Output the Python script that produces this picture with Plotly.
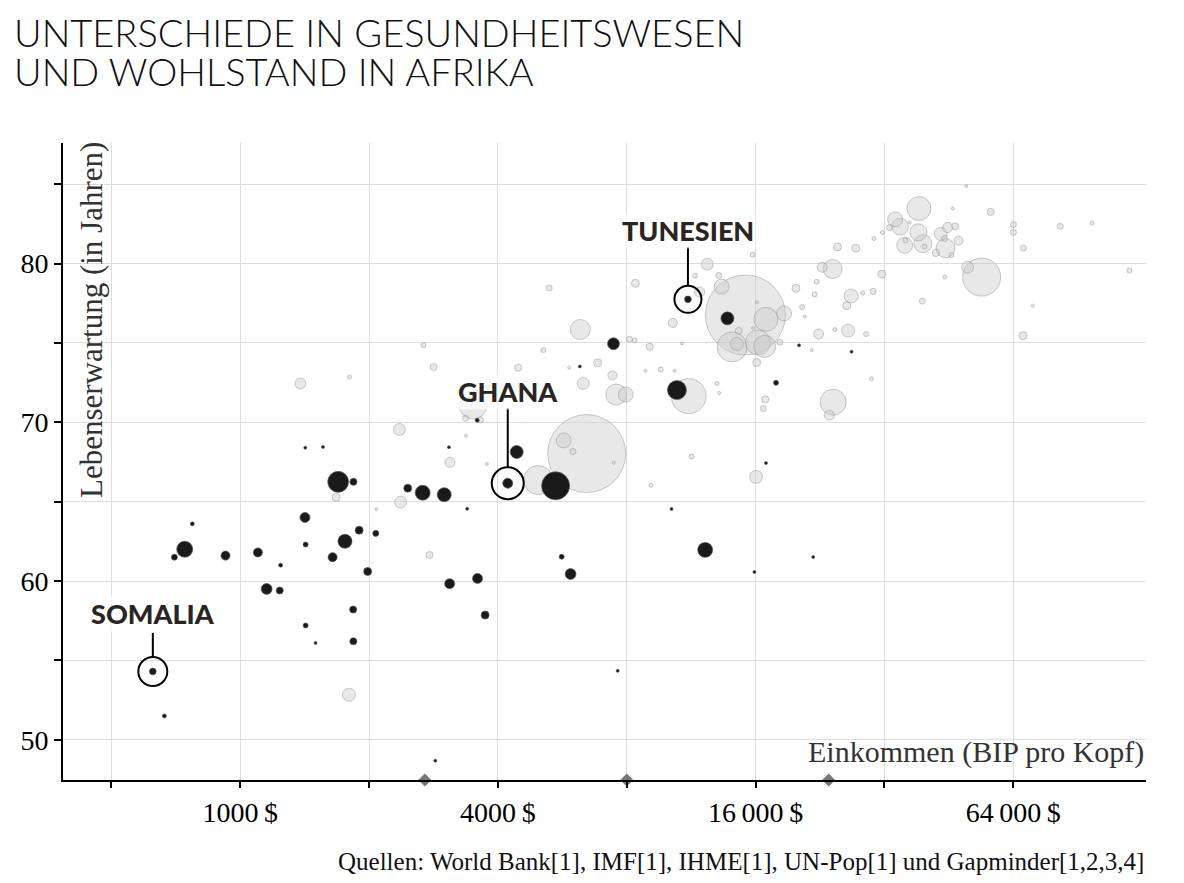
import math
import plotly.graph_objects as go

# ---------------- data ----------------
# African countries: GDP per capita (US$), life expectancy (years), population (millions)
africa_gdp = [625, 665, 702, 742, 773, 924, 1100, 1243, 1153, 1237,
              1417, 1422, 1644, 1757, 1896, 2074, 1985, 1836, 1422, 1500,
              1838, 1694, 1839, 1419, 1561, 2463, 2669, 2997, 4218, 4426,
              5457, 3391, 3086, 3585, 3735, 5637, 5914, 3578, 3074, 10180,
              12200, 15900, 7620, 2856, 21810, 11120, 13750, 7450, 6217, 10480,
              17860, 20210, 26810, 16920]
africa_le = [54.3, 51.5, 61.5, 62.0, 63.6, 61.6, 61.8, 61.0, 59.5, 59.4,
             64.0, 62.3, 61.5, 62.5, 63.2, 63.0, 60.6, 58.2, 57.2, 56.1,
             56.2, 66.25, 66.25, 68.4, 68.45, 65.85, 65.56, 65.44, 66.16, 68.13,
             66.0, 64.55, 59.83, 60.16, 57.85, 61.53, 60.44, 70.13, 68.43, 64.54,
             61.96, 60.57, 54.34, 48.68, 61.51, 77.75, 76.55, 74.95, 73.52, 72.03,
             72.49, 74.85, 74.45, 67.43]
africa_pop = [10, 3.5, 8, 56, 3.5, 18, 18, 3.5, 26, 11,
              22, 5.5, 18, 43, 14, 8, 14, 11, 5.5, 1,
              11, 96, 11, 1, 2, 14, 49, 43, 22, 37,
              171, 1, 22, 22, 14, 5.5, 26, 3.5, 0.5, 2,
              49, 1, 0.5, 1, 0.3, 10, 37, 31, 0.5, 79,
              5.5, 1, 0.3, 0.5]

# Rest of the world
world_gdp = [5270, 6230, 8380, 12340, 11550, 13120, 13330, 11840, 15760, 10250,
             15150, 16920, 18650, 19880, 14100, 14460, 16210, 16800, 14620, 16100,
             18220, 16130, 15790, 8120, 8350, 9050, 10770, 6840, 5870, 5110,
             4460, 2680, 2830, 7410, 6330, 7560, 7960, 8850, 9600, 10350,
             11160, 13000, 13160, 16860, 16680, 3500, 3360, 3640, 2355, 3370,
             3090, 3770, 6450, 5700, 5990, 7460, 11340, 16040, 9110, 4970,
             49700, 38540, 46240, 56700, 33900, 34800, 36660, 32900, 31670, 30260,
             38410, 35680, 39380, 35820, 39670, 43300, 44950, 46840, 47670, 44230,
             44450, 42200, 45920, 50050, 54000, 44300, 64050, 64050, 67550, 82430,
             97820, 119500, 71040, 67450, 39240, 31540, 30110, 28480, 26750, 26140,
             27440, 24870, 24220, 22900, 22230, 21980, 20560, 20840, 22460, 24510,
             26320, 29000, 21640, 29840, 24290, 23780, 1382, 1800, 1676, 2370,
             2080, 2770, 1795]
world_le = [78.46, 75.85, 78.76, 79.96, 79.24, 79.26, 78.55, 78.21, 80.56, 76.26,
            76.76, 76.49, 76.86, 78.44, 74.75, 74.94, 75.03, 74.78, 75.76, 73.77,
            75.05, 77.56, 75.94, 75.24, 75.16, 74.76, 74.97, 73.75, 73.44, 74.55,
            73.44, 74.86, 73.48, 72.95, 72.45, 71.75, 71.75, 73.25, 73.33, 73.25,
            71.65, 72.45, 71.85, 71.45, 70.87, 71.09, 70.25, 70.15, 69.55, 69.15,
            67.48, 67.37, 68.03, 68.86, 68.16, 67.45, 67.84, 66.56, 66.03, 66.36,
            84.88, 83.47, 83.47, 83.26, 82.79, 82.33, 82.59, 82.27, 81.96, 81.58,
            81.97, 81.15, 81.26, 81.47, 81.07, 81.87, 82.27, 82.35, 81.45, 81.58,
            80.97, 80.67, 80.54, 79.77, 79.15, 79.15, 82.46, 81.97, 80.97, 82.35,
            82.56, 79.56, 77.35, 75.46, 77.64, 79.34, 78.25, 78.15, 77.96, 77.35,
            80.97, 81.05, 79.66, 79.77, 78.86, 78.06, 77.26, 76.66, 75.56, 75.85,
            75.77, 75.56, 74.55, 72.74, 71.27, 70.45, 72.44, 72.85, 65.27, 64.97,
            64.53, 61.64, 52.83]
world_pop = [8, 88, 14, 31, 5.5, 8, 49, 22, 5.5, 18,
             1400, 126, 49, 14, 197, 37, 137, 106, 11, 14,
             8, 2, 1, 8, 5.5, 11, 2, 14, 2, 5.5,
             11, 5.5, 11, 18, 31, 96, 49, 2, 5.5, 2,
             268, 3.5, 2, 11, 8, 171, 8, 8, 31, 2,
             22, 2, 1330, 49, 8, 2, 5.5, 37, 3.5, 184,
             2, 126, 2, 11, 49, 63, 2, 8, 3.5, 3.5,
             63, 56, 71, 5.5, 5.5, 37, 22, 11, 18, 8,
             79, 11, 5.5, 31, 316, 3.5, 8, 8, 8, 8,
             3.5, 5.5, 2, 14, 8, 14, 8, 3.5, 43, 14,
             14, 14, 79, 22, 5.5, 5.5, 5.5, 2, 22, 3.5,
             37, 5.5, 2, 3.5, 148, 22, 26, 3.5, 14, 31,
             2, 11, 37]

# Highlighted countries (index into the Africa arrays)
highlight_names = ["SOMALIA", "GHANA", "TUNESIEN"]
highlight_idx = [0, 28, 45]

# Gray diamonds on the x axis
diamond_gdp = [2700, 8000, 23700]

# Axis ticks
x_tickvals = [500, 1000, 2000, 4000, 8000, 16000, 32000, 64000]
x_ticktext = ["", "1000\u2009$", "", "4000\u2009$", "", "16\u2009000\u2009$", "", "64\u2009000\u2009$"]
y_tickvals = [50, 55, 60, 65, 70, 75, 80, 85]
y_ticktext = ["50", "", "60", "", "70", "", "80", ""]

title_lines = ["UNTERSCHIEDE IN GESUNDHEITSWESEN", "UND WOHLSTAND IN AFRIKA"]
x_title = "Einkommen (BIP pro Kopf)"
y_title = "Lebenserwartung (in Jahren)"
source_text = "Quellen: World Bank[1], IMF[1], IHME[1], UN-Pop[1] und Gapminder[1,2,3,4]"

# ---------------- styling ----------------
X_RANGE = [math.log10(385.5), math.log10(130700)]
Y_RANGE = [47.46, 87.6]
MAX_D = 80.0
sizeref = 2.0 * max(world_pop + africa_pop) / MAX_D ** 2

SERIF = "Liberation Serif, Times New Roman, serif"
SANS = "Lato, Open Sans, sans-serif"


def sorted_desc(xs, ys, ss):
    order = sorted(range(len(ss)), key=lambda i: -ss[i])
    return [xs[i] for i in order], [ys[i] for i in order], [ss[i] for i in order]


wx, wy, ws = sorted_desc(world_gdp, world_le, world_pop)
ax_, ay_, as_ = sorted_desc(africa_gdp, africa_le, africa_pop)

fig = go.Figure()
fig.add_trace(go.Scatter(
    x=wx, y=wy, mode="markers", hoverinfo="skip", showlegend=False,
    marker=dict(size=ws, sizemode="area", sizeref=sizeref, sizemin=1.5, opacity=1,
                color="rgba(200,200,200,0.42)",
                line=dict(color="rgba(140,140,140,0.45)", width=1)),
))
fig.add_trace(go.Scatter(
    x=ax_, y=ay_, mode="markers", hoverinfo="skip", showlegend=False,
    marker=dict(size=as_, sizemode="area", sizeref=sizeref, sizemin=1.5, opacity=1,
                color="#1a1a1a",
                line=dict(color="rgba(90,90,90,0.7)", width=1)),
))
fig.add_trace(go.Scatter(
    x=diamond_gdp, y=[Y_RANGE[0]] * len(diamond_gdp), mode="markers",
    hoverinfo="skip", showlegend=False, cliponaxis=False,
    marker=dict(symbol="diamond", size=10, color="#777777", opacity=1),
))

ring_d = [29, 32, 27]
line_top = [38.6, 75.4, 52.3]
label_shift = [58, 92, 69]

hl_gdp = [africa_gdp[i] for i in highlight_idx]
hl_le = [africa_le[i] for i in highlight_idx]

# Rings around highlighted countries
fig.add_trace(go.Scatter(
    x=hl_gdp, y=hl_le, mode="markers", hoverinfo="skip", showlegend=False,
    marker=dict(symbol="circle-open", size=ring_d, color="black", opacity=1,
                line=dict(width=2)),
))

shapes = []
annotations = []
for k in range(len(highlight_idx)):
    gx, gy = hl_gdp[k], hl_le[k]
    r = ring_d[k] / 2.0
    shapes.append(dict(type="line", xref="x", yref="y",
                       ysizemode="pixel", yanchor=gy,
                       x0=gx, x1=gx, y0=r, y1=line_top[k],
                       line=dict(color="black", width=2)))
    annotations.append(dict(x=math.log10(gx), y=gy, xref="x", yref="y",
                            text=highlight_names[k], showarrow=False,
                            yshift=label_shift[k], xanchor="center", yanchor="middle",
                            bgcolor="rgba(255,255,255,0.7)",
                            font=dict(family=SANS, size=27, color="#2a2521", weight=900)))

# Title (two lines, tight spacing)
annotations.append(dict(x=-0.047, y=1.175, xref="paper", yref="paper", xanchor="left",
                        yanchor="middle", showarrow=False, text=title_lines[0],
                        font=dict(family=SANS, size=38, color="#111111", weight=300)))
annotations.append(dict(x=-0.047, y=1.1135, xref="paper", yref="paper", xanchor="left",
                        yanchor="middle", showarrow=False, text=title_lines[1],
                        font=dict(family=SANS, size=38, color="#111111", weight=300)))
# Axis titles
annotations.append(dict(x=1.0, y=0.044, xref="paper", yref="paper", xanchor="right",
                        yanchor="middle", showarrow=False, text=x_title,
                        font=dict(family=SERIF, size=30, color="#333333")))
annotations.append(dict(x=0.0258, y=0.722, xref="paper", yref="paper", xanchor="center",
                        yanchor="middle", showarrow=False, text=y_title, textangle=-90,
                        font=dict(family=SERIF, size=31, color="#333333")))
# Source
annotations.append(dict(x=1.0, y=-0.1287, xref="paper", yref="paper", xanchor="right",
                        yanchor="middle", showarrow=False, text=source_text,
                        font=dict(family=SERIF, size=25, color="#111111")))

# page body has an 8px margin: figure is 8px smaller and margins shifted accordingly
fig.update_layout(
    width=1176, height=875,
    margin=dict(l=52, r=38, t=135, b=103),
    paper_bgcolor="white", plot_bgcolor="white",
    shapes=shapes, annotations=annotations,
    xaxis=dict(type="log", range=X_RANGE, tickvals=x_tickvals, ticktext=x_ticktext,
               showgrid=True, gridcolor="#dddddd", gridwidth=1,
               showline=True, linecolor="black", linewidth=2,
               ticks="outside", ticklen=6, tickwidth=1.5, tickcolor="black",
               tickfont=dict(family=SERIF, size=28, color="black"), zeroline=False),
    yaxis=dict(range=Y_RANGE, tickvals=y_tickvals, ticktext=y_ticktext,
               showgrid=True, gridcolor="#dddddd", gridwidth=1,
               showline=True, linecolor="black", linewidth=2,
               ticks="outside", ticklen=7, tickwidth=1.5, tickcolor="black",
               tickfont=dict(family=SERIF, size=28, color="black"), zeroline=False),
)

fig.write_html("out.html")
